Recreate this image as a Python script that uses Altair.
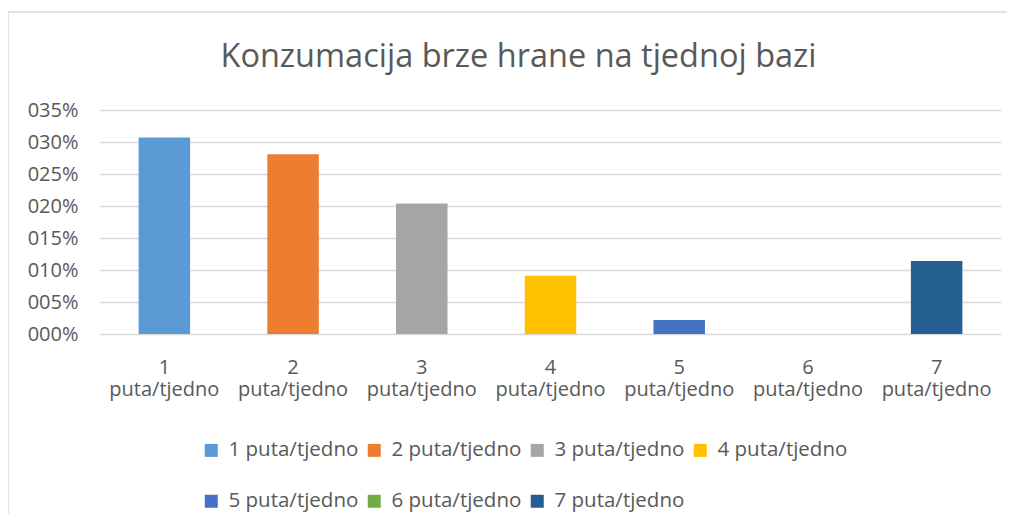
import altair as alt
import pandas as pd

title_text = "Konzumacija brze hrane na tjednoj bazi"
categories = ["1 puta/tjedno", "2 puta/tjedno", "3 puta/tjedno", "4 puta/tjedno",
              "5 puta/tjedno", "6 puta/tjedno", "7 puta/tjedno"]
values = [0.307, 0.281, 0.204, 0.091, 0.022, 0.0, 0.114]
colors = ["#5B9BD5", "#ED7D31", "#A5A5A5", "#FFC000", "#4472C4", "#70AD47", "#255E91"]
y_ticks = [0, 0.05, 0.10, 0.15, 0.20, 0.25, 0.30, 0.35]

FONT = "Open Sans"
TXT = "#595959"
GRID = "#D9D9D9"

df = pd.DataFrame({"cat": categories, "val": values})

bars = alt.Chart(df).mark_bar().encode(
    x=alt.X("cat:N", sort=categories, title=None,
            scale=alt.Scale(paddingInner=0.6, paddingOuter=0.3),
            axis=alt.Axis(labelAngle=0, labelExpr="split(datum.label, ' ')",
                          labelLineHeight=22, labelFontSize=20, labelFont=FONT,
                          labelColor=TXT, ticks=False, domain=False, labelPadding=23,
                          grid=False)),
    y=alt.Y("val:Q", title=None,
            scale=alt.Scale(domain=[0, 0.35], nice=False),
            axis=alt.Axis(values=y_ticks,
                          labelExpr="(round(datum.value*100) < 10 ? '00' : '0') + round(datum.value*100) + '%'",
                          labelFontSize=20, labelFont=FONT, labelColor=TXT,
                          ticks=False, domain=False, labelPadding=22,
                          grid=True, gridColor=GRID, gridWidth=1.3)),
    color=alt.Color("cat:N", sort=categories,
                    scale=alt.Scale(domain=categories, range=colors),
                    legend=alt.Legend(title=None, orient="none", legendX=101, legendY=330,
                                      direction="horizontal", columns=4,
                                      symbolType="square", symbolSize=169,
                                      symbolStrokeWidth=0, labelFontSize=20.5,
                                      labelFont=FONT, labelColor=TXT,
                                      columnPadding=5, rowPadding=30, labelOffset=7)),
)

title_df = pd.DataFrame({"t": [title_text]})
title = alt.Chart(title_df).mark_text(
    font=FONT, fontSize=32.5, color=TXT, align="center", baseline="alphabetic"
).encode(x=alt.value(418.5), y=alt.value(-43), text="t:N")

border_df = pd.DataFrame({"k": [1]})
left_border = alt.Chart(border_df).mark_rule(color=GRID, strokeWidth=1.5).encode(
    x=alt.value(-92), y=alt.value(-98), y2=alt.value(420))
top_border = alt.Chart(border_df).mark_rule(color=GRID, strokeWidth=1.5).encode(
    y=alt.value(-98), x=alt.value(-92), x2=alt.value(920))

chart = alt.layer(left_border, top_border, bars, title).properties(
    width=901, height=224,
    autosize=alt.AutoSizeParams(type="none"),
    padding={"left": 92, "top": 102, "right": 6, "bottom": 180},
).configure_view(stroke=None)

chart.save("out.html", embed_options={"renderer": "svg", "actions": False})
